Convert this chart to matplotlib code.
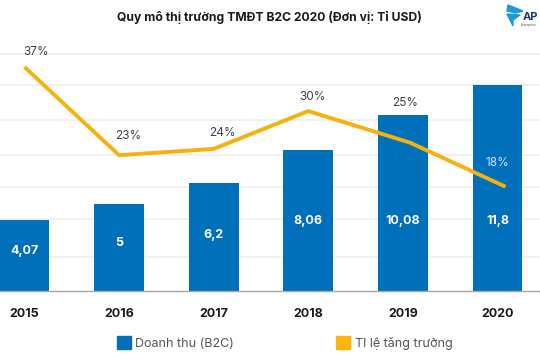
import matplotlib
matplotlib.use('Agg')
import matplotlib.pyplot as plt
from matplotlib.patches import Patch, Polygon

plt.rcParams['font.family'] = ['Inter', 'DejaVu Sans']

years = ['2015', '2016', '2017', '2018', '2019', '2020']
revenue = [4.07, 5, 6.2, 8.06, 10.08, 11.8]
revenue_labels = ['4,07', '5', '6,2', '8,06', '10,08', '11,8']
growth = [37, 23, 24, 30, 25, 18]
grid_values = [1.95, 4.12, 5.96, 7.79, 9.8, 11.8, 13.57]

BLUE = '#0070BA'
YELLOW = '#FFB511'
LINE = '#F8B00F'
W, H = 540, 360

fig = plt.figure(figsize=(W / 100, H / 100), dpi=100)
# vung ve: day truc o y=291px, dinh o y=40px
ax = fig.add_axes([0, (H - 291) / H, 1, (291 - 40) / H])
xs = list(range(len(years)))
ax.set_xlim(-24.5 / 94.6, (540 - 24.5) / 94.6)
ax.set_ylim(0, (291 - 40) / 17.46)

ax.bar(xs, revenue, width=0.528, color=BLUE, zorder=2)
ax.set_yticks(grid_values)
ax.tick_params(axis='y', length=0, labelleft=False)
ax.grid(axis='y', color='#EFEFEF', linewidth=1.2, zorder=0)
ax.set_axisbelow(True)
for s in ['top', 'left', 'right']:
    ax.spines[s].set_visible(False)
ax.spines['bottom'].set_color('#A6A6A6')
ax.spines['bottom'].set_linewidth(1)

ax.set_xticks(xs)
ax.set_xticklabels(years, fontsize=9, fontweight='bold', color='#1A1A1A')
ax.tick_params(axis='x', length=0, pad=12)

# nhan trong cot: cot cao thi giu nguyen do cao
label_y = [2.29, 2.75, 3.2, 4.0, 4.0, 4.0]
for x, y, lab in zip(xs, label_y, revenue_labels):
    ax.text(x, y, lab, ha='center', va='center',
            fontsize=9, fontweight='bold', color='white', zorder=5)

# duong ti le tang truong, truc phu
ax2 = ax.twinx()
ax2.set_ylim(37 - (291 - 67) / 6.3, 37 + (67 - 40) / 6.3)
ax2.axis('off')
line_shift = [0, 0, 0, 0, 7, 8]  # px, hai diem cuoi lech khoi tam cot
gx = [x + d / 94.6 for x, d in zip(xs, line_shift)]
ax2.plot(gx, growth, color=LINE, linewidth=2.8, solid_capstyle='butt', zorder=4)

pct_offset = [(12, 15), (9, 19), (9, 16), (4, 14), (-5, 40), (-8, 24)]
pct_color = ['#404040'] * 5 + ['#CFE3F2']
for x, g, (dx, dy), c in zip(gx, growth, pct_offset, pct_color):
    ax2.annotate(f'{g}%', (x, g), xytext=(dx * 0.72, dy * 0.72), textcoords='offset points',
                 ha='center', va='center', fontsize=8.5, color=c)

fig.text(269 / W, 1 - 17 / H, 'Quy mô thị trường TMĐT B2C 2020 (Đơn vị: Tỉ USD)',
         ha='center', va='center', fontsize=8.75, fontweight='bold', color='#1A1A1A')

# legend
handles = [Patch(color=BLUE, label='Doanh thu (B2C)'),
           Patch(color=YELLOW, label='Tỉ lệ tăng trưởng')]
fig.legend(handles=handles, ncol=2, loc='center', bbox_to_anchor=(284.5 / W, 1 - 343 / H),
           frameon=False, fontsize=9, labelcolor='#555555', handlelength=1.12,
           handleheight=1.12, handletextpad=0.35, columnspacing=8.2,
           borderpad=0, borderaxespad=0)

# logo goc phai
fig.add_artist(Polygon([[507 / W, 1 - 11 / H], [508 / W, 1 - 5 / H], [523 / W, 1 - 11 / H],
                        [516 / W, 1 - 13 / H]], closed=True, color='#1B9AD6'))
fig.add_artist(Polygon([[507 / W, 1 - 14 / H], [520 / W, 1 - 15 / H], [513 / W, 1 - 20 / H],
                        [513 / W, 1 - 26 / H]], closed=True, color='#1B9AD6'))
fig.text(523 / W, 1 - 17 / H, 'AP', fontsize=8, fontweight='bold', color='#1F3A5F',
         ha='left', va='center')
fig.text(521 / W, 1 - 25 / H, 'Enterprise', fontsize=2.4, color='#555555', ha='left', va='center')

fig.savefig('out.png', dpi=100)
